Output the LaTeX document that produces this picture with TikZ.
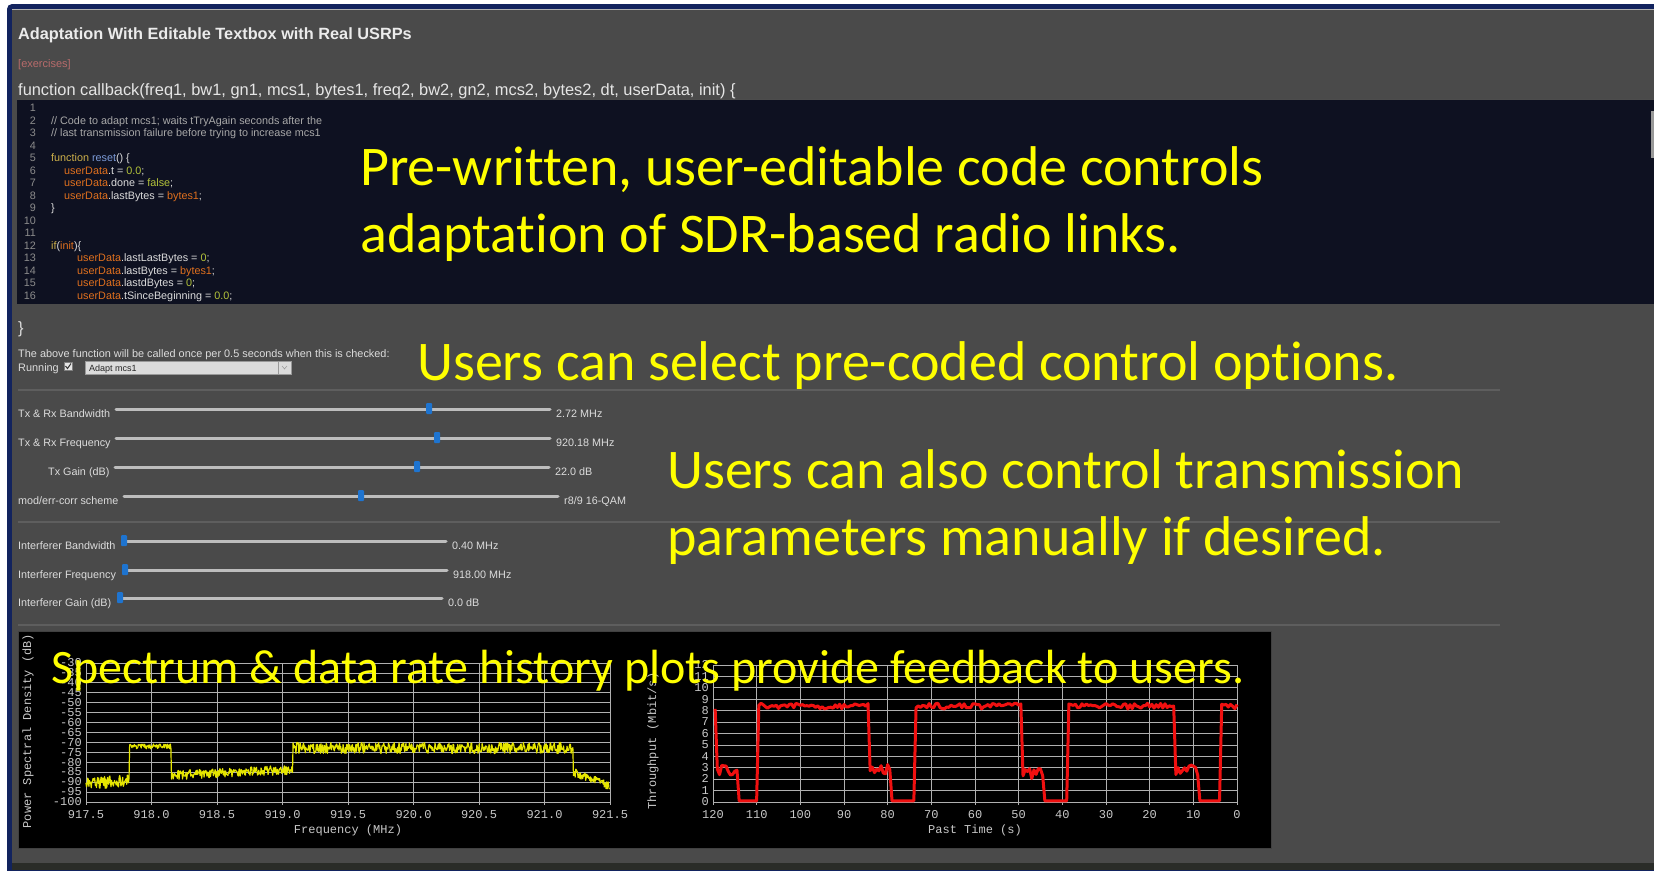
\documentclass[tikz,border=0pt]{standalone}
\usepackage{fontspec}
\setmainfont{Liberation Sans}
\newfontfamily\uif{Liberation Sans}
\newfontfamily\callf[Ligatures=NoCommon]{Carlito}
\newfontfamily\monof{Liberation Mono}
\definecolor{panel}{HTML}{4A4A4A}
\definecolor{navyb}{HTML}{12235E}
\definecolor{codebg}{HTML}{0E1121}
\definecolor{uitext}{HTML}{DCDCDC}
\definecolor{exer}{HTML}{B86B6B}
\definecolor{lnum}{HTML}{8C8C8C}
\definecolor{cmt}{HTML}{A8A8A8}
\definecolor{kw}{HTML}{CDB04A}
\definecolor{ud}{HTML}{E0701E}
\definecolor{val}{HTML}{B4C43A}
\definecolor{fn}{HTML}{7C9BD8}
\definecolor{track}{HTML}{BDBDBD}
\definecolor{knob}{HTML}{1E74D0}
\definecolor{sep}{HTML}{5E5E5E}
\definecolor{grid}{HTML}{B0B0B0}
\definecolor{ticklbl}{HTML}{C8C8C8}
\definecolor{yel}{HTML}{FFFF00}
\definecolor{specy}{HTML}{E6E600}
\definecolor{thrred}{HTML}{F01010}
\definecolor{bottomstrip}{HTML}{2A2C28}
\tikzset{
  uitxt/.style={font=\uif\fontsize{10.8}{13}\selectfont, text=uitext, inner sep=0, anchor=base west},
  codetxt/.style={font=\uif\fontsize{10.8}{12}\selectfont, text=uitext, inner sep=0, anchor=base west},
  lnumtxt/.style={codetxt, text=lnum, anchor=base east},
  ann/.style={font=\callf\fontsize{56}{67}\selectfont, text=yel, inner sep=0, anchor=base west, align=left},
  ticklab/.style={font=\monof\fontsize{12}{12}\selectfont, text=ticklbl, inner sep=0, text height=7.5, text depth=0},
  axlab/.style={font=\monof\fontsize{12}{12}\selectfont, text=ticklbl, inner sep=0},
  gridline/.style={draw=grid, line width=0.8},
  trackline/.style={draw=track, line width=3, line cap=round},
  knobbox/.style={fill=knob, rounded corners=1, inner sep=0, minimum width=6, minimum height=11},
  sepline/.style={draw=sep, line width=1.5}
}
\newcommand\uislider[8]{%
  \node[uitxt] (#1lab) at (#3,#4+8) {#2};
  \draw[trackline] (#5,#4) -- (#6,#4);
  \node[knobbox] (#1knob) at (#7,#4-0.5) {};
  \node[uitxt] (#1val) at (#6+6,#4+8) {#8};
}
\begin{document}
\begin{tikzpicture}[x=1pt,y=-1pt,
  declare function={
    speclvl(\f)=(\f<0.33)?(-91+6*\f):((\f<0.65)?(-72):((\f<1.58)?(-86.5+3*(\f-0.65)):((\f<3.72)?(-72.8):(-85-25*(\f-3.72)))));
    specamp(\f)=(\f<0.33)?3:((\f<0.65)?1.2:((\f<1.58)?2.4:((\f<3.72)?2.8:2.2)));
    thr(\t)=(\t>119.2)?8.2:((\t>114.4)?2.8:((\t>109.5)?0.1:((\t>84.3)?8.4:((\t>79.2)?2.9:((\t>73.9)?0.1:((\t>49.3)?8.4:((\t>44.2)?2.5:((\t>38.8)?0.1:((\t>14.2)?8.4:((\t>8.8)?2.8:((\t>3.7)?0.1:8.4)))))))))));
    thramp(\t)=(thr(\t)>5)?0.25:((thr(\t)>1)?0.45:0);
  }]
\useasboundingbox (0,0) rectangle (1654,870);
\clip (0,0) rectangle (1654,870);
\pgfmathsetseed{7}
% frame
\fill[white] (0,0) rectangle (1654,870);
\fill[navyb, rounded corners=5] (7,4) rectangle (1670,890);
\fill[panel] (12,9) rectangle (1654,863);
\draw[color=gray!60, line width=1] (12,9.5) -- (1654,9.5);
\fill[bottomstrip] (12,863) rectangle (1654,870);
% header texts
\node[uitxt, font=\uif\bfseries\fontsize{16.3}{18}\selectfont, text=white!92!black] (title) at (18,39) {Adaptation With Editable Textbox with Real USRPs};
\node[uitxt, font=\uif\fontsize{11}{12}\selectfont, text=exer] (exer) at (18,67) {[exercises]};
\node[uitxt, font=\uif\fontsize{16.4}{19}\selectfont, text=white!90!black] (cb) at (18,95) {function callback(freq1, bw1, gn1, mcs1, bytes1, freq2, bw2, gn2, mcs2, bytes2, dt, userData, init) \{};
% code box
\fill[codebg] (17,99) rectangle (1654,304);
\draw[color=black!70, line width=1] (17,99) -- (1654,99);
\fill[color=gray!80] (1651,111) rectangle (1654,158);
\foreach \n in {1,...,16} \node[lnumtxt] (ln\n) at (36,{111.5+(\n-1)*12.53}) {\n};
\node[codetxt, text=cmt] (c2) at (51,124.0) {// Code to adapt mcs1; waits tTryAgain seconds after the};
\node[codetxt, text=cmt] (c3) at (51,136.6) {// last transmission failure before trying to increase mcs1};
\node[codetxt] (c5) at (51,161.6) {\textcolor{kw}{function} \textcolor{fn}{reset}() \{};
\node[codetxt] (c6) at (64,174.2) {\textcolor{ud}{userData}.t = \textcolor{val}{0.0};};
\node[codetxt] (c7) at (64,186.7) {\textcolor{ud}{userData}.done = \textcolor{val}{false};};
\node[codetxt] (c8) at (64,199.2) {\textcolor{ud}{userData}.lastBytes = \textcolor{ud}{bytes1};};
\node[codetxt] (c9) at (51,211.7) {\}};
\node[codetxt] (c12) at (51,249.3) {\textcolor{kw}{if}(\textcolor{ud}{init})\{};
\node[codetxt] (c13) at (77,261.9) {\textcolor{ud}{userData}.lastLastBytes = \textcolor{val}{0};};
\node[codetxt] (c14) at (77,274.4) {\textcolor{ud}{userData}.lastBytes = \textcolor{ud}{bytes1};};
\node[codetxt] (c15) at (77,286.9) {\textcolor{ud}{userData}.lastdBytes = \textcolor{val}{0};};
\node[codetxt] (c16) at (77,299.5) {\textcolor{ud}{userData}.tSinceBeginning = \textcolor{val}{0.0};};
% below code
\node[uitxt, font=\uif\fontsize{16.4}{19}\selectfont] (close) at (18,333) {\}};
\node[uitxt, font=\uif\fontsize{10.9}{12}\selectfont] (above) at (18,357) {The above function will be called once per 0.5 seconds when this is checked:};
\node[uitxt, font=\uif\fontsize{10.9}{12}\selectfont] (run) at (18,371) {Running};
\node[fill=white!90!black, draw=gray, inner sep=0, minimum width=8, minimum height=8] (chk) at (68,366) {};
\draw[color=black!80, line width=1] (65.5,366) -- (67.5,368.5) -- (71,363.5);
\node[fill=white!86!black, draw=gray!80, inner sep=0, minimum width=206, minimum height=13] (dd) at (188,367.5) {};
\node[uitxt, font=\uif\fontsize{9}{11}\selectfont, text=black!85] (ddtxt) at (89,371.5) {Adapt mcs1};
\draw[color=gray!80] (278,361) -- (278,374);
\draw[color=gray!90] (282,366) -- (284.5,369) -- (287,366);
% separators
\draw[sepline] (18,390) -- (1500,390);
\draw[sepline] (18,522) -- (1500,522);
\draw[sepline] (18,625) -- (1500,625);
% sliders
\uislider{s1}{Tx \& Rx Bandwidth}{18}{409}{116}{550}{429}{2.72 MHz}
\uislider{s2}{Tx \& Rx Frequency}{18}{438}{116}{550}{437}{920.18 MHz}
\uislider{s3}{Tx Gain (dB)}{48}{467}{115}{549}{417}{22.0 dB}
\uislider{s4}{mod/err-corr scheme}{18}{496}{124}{558}{361}{r8/9 16-QAM}
\uislider{s5}{Interferer Bandwidth}{18}{541}{124}{446}{124}{0.40 MHz}
\uislider{s6}{Interferer Frequency}{18}{570}{125}{447}{125}{918.00 MHz}
\uislider{s7}{Interferer Gain (dB)}{18}{598}{120}{442}{120}{0.0 dB}
% plots box
\fill[black] (18,631) rectangle (1271,848);
\draw[color=gray!50!black, line width=1] (18,631) rectangle (1271,848);
% left plot grid
\foreach \k in {0,...,14} {
  \draw[gridline] (86,{663+\k*9.929}) -- (610,{663+\k*9.929});
  \pgfmathtruncatemacro\lab{-30-5*\k}
  \node[ticklab, anchor=east] (sy\k) at (82,{663+\k*9.929}) {\lab};
}
\foreach \j/\lab in {0/917.5,1/918.0,2/918.5,3/919.0,4/919.5,5/920.0,6/920.5,7/921.0,8/921.5} {
  \draw[gridline] ({86+\j*65.5},663) -- ({86+\j*65.5},805);
  \node[ticklab, anchor=base] (sx\j) at ({86+\j*65.5},818) {\lab};
}
\node[axlab] (fxl) at (348,830) {Frequency (MHz)};
\node[axlab, rotate=90] (fyl) at (28,731) {Power Spectral Density (dB)};
\draw[color=specy, line width=1.2, line join=round] plot[domain=0:4, samples=900] ({86+131*\x},{663+1.986*(-30-speclvl(\x)-specamp(\x)*rand)});
% right plot grid
\foreach \k in {0,...,12} {
  \draw[gridline] (713,{802-\k*11.417}) -- (1237,{802-\k*11.417});
  \node[ticklab, anchor=east] (ty\k) at (709,{802-\k*11.417}) {\k};
}
\foreach \j in {0,...,12} {
  \pgfmathtruncatemacro\lab{120-10*\j}
  \draw[gridline] ({713+\j*43.667},665) -- ({713+\j*43.667},805);
  \node[ticklab, anchor=base] (tx\j) at ({713+\j*43.667},818) {\lab};
}
\node[axlab] (txl) at (975,830) {Past Time (s)};
\node[axlab, rotate=90] (tyl) at (653,741) {Throughput (Mbit/s)};
\draw[color=thrred, line width=3, line join=round] plot[domain=0:119.5, samples=240] ({1237-4.367*\x},{802-11.417*(thr(\x)+thramp(\x)*rand)});
% annotations
\node[ann] (a1) at (360,252) {Pre-written, user-editable code controls\\adaptation of SDR-based radio links.};
\node[ann] (a2) at (417,380) {Users can select pre-coded control options.};
\node[ann] (a3) at (667,555) {Users can also control transmission\\parameters manually if desired.};
\node[ann, font=\callf\fontsize{48}{50}\selectfont] (a4) at (51,683) {Spectrum \& data rate history plots provide feedback to users.};
\end{tikzpicture}
\end{document}
